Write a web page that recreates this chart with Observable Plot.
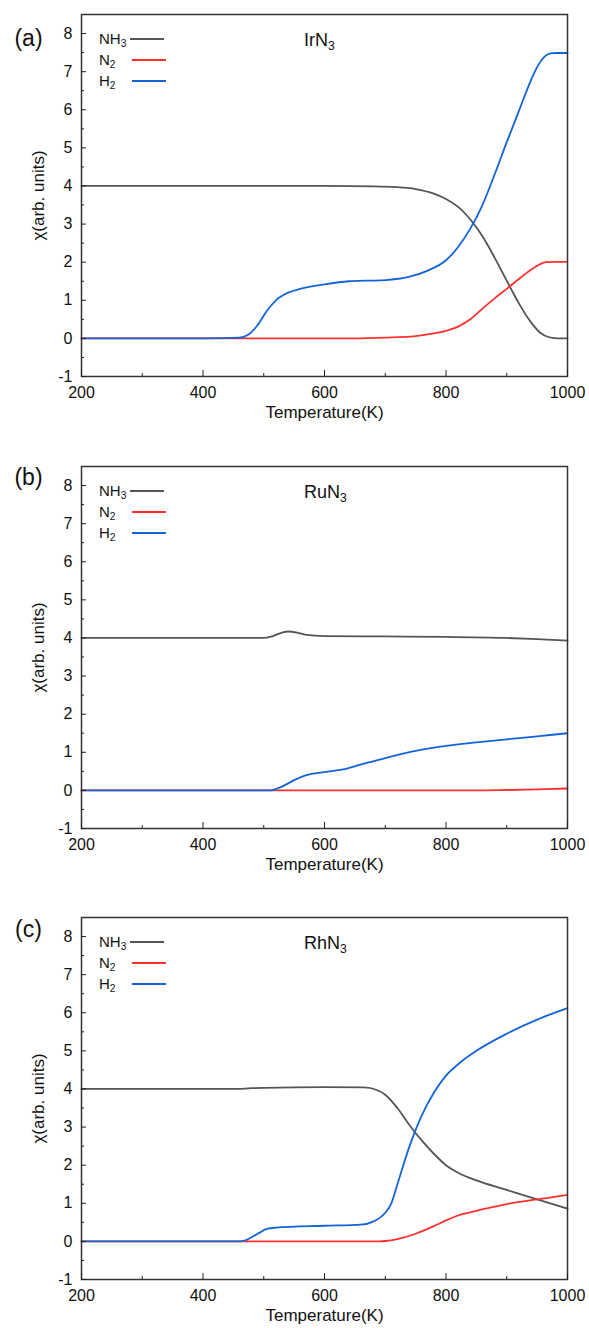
<!DOCTYPE html>
<html>
<head>
<meta charset="utf-8">
<script src="https://cdn.jsdelivr.net/npm/d3@7"></script>
<script src="https://cdn.jsdelivr.net/npm/@observablehq/plot@0.6"></script>
<style>
  body { margin: 0; background: #fff; font-family: Arial, "Liberation Sans", sans-serif; color: #111; }
  #fig { position: relative; width: 589px; }
  .panel { position: relative; width: 589px; }
  .panel svg { display: block; }
  .panel svg g[aria-label="x-axis tick label"], .panel svg g[aria-label="y-axis tick label"] { font-size: 16px; }
  .ov { position: absolute; transform: translateY(-50%); white-space: nowrap; line-height: 1; }
  .ov sub { font-size: 0.68em; vertical-align: -0.3em; line-height: 0; }
  .sw { position: absolute; height: 1.8px; width: 34px; }
</style>
</head>
<body>
<div id="fig"></div>
<script>
// ---- labels ----
const panelLabels = ["(a)", "(b)", "(c)"];
const compoundBase = ["IrN", "RuN", "RhN"];
const seriesNames = ["NH3", "N2", "H2"];
const xTitle = "Temperature(K)";
const yTitle = "χ(arb. units)";
const xMajorTicks = [200, 400, 600, 800, 1000];
const xMinorTicks = [300, 500, 700, 900];
const yMajorTicks = [-1, 0, 1, 2, 3, 4, 5, 6, 7, 8];
const yMinorTicks = [-0.5, 0.5, 1.5, 2.5, 3.5, 4.5, 5.5, 6.5, 7.5];
const seriesColors = ["#555555", "#ff3030", "#1464d8"];

// ---- (a) IrN3 ----
const irNH3_T = [200, 400, 600, 680, 720, 750, 780, 800, 820, 845, 860, 880, 906, 920, 940, 955, 970, 985, 1000];
const irNH3   = [4.0, 4.0, 4.0, 3.99, 3.97, 3.92, 3.8, 3.66, 3.45, 3.02, 2.68, 2.12, 1.33, 0.92, 0.42, 0.15, 0.03, 0.0, 0.0];
const irN2_T  = [200, 400, 600, 650, 700, 750, 780, 800, 820, 840, 860, 880, 900, 920, 940, 955, 965, 980, 1000];
const irN2    = [0, 0, 0, 0.0, 0.02, 0.06, 0.13, 0.2, 0.31, 0.5, 0.78, 1.05, 1.3, 1.56, 1.8, 1.95, 2.0, 2.01, 2.01];
const irH2_T  = [200, 400, 460, 475, 490, 505, 520, 540, 560, 600, 640, 700, 740, 770, 800, 820, 840, 860, 880, 900, 920, 940, 950, 958, 965, 972, 980, 1000];
const irH2    = [0, 0, 0.02, 0.1, 0.35, 0.72, 1.0, 1.2, 1.3, 1.42, 1.5, 1.53, 1.62, 1.78, 2.05, 2.4, 2.88, 3.5, 4.3, 5.15, 5.97, 6.78, 7.12, 7.32, 7.43, 7.48, 7.49, 7.49];

// ---- (b) RuN3 ----
const ruNH3_T = [200, 400, 500, 515, 530, 540, 555, 570, 600, 700, 800, 900, 950, 1000];
const ruNH3   = [4.0, 4.0, 4.0, 4.05, 4.14, 4.17, 4.14, 4.08, 4.05, 4.04, 4.03, 4.0, 3.97, 3.93];
const ruN2_T  = [200, 400, 600, 800, 850, 900, 950, 1000];
const ruN2    = [0, 0, 0, 0, 0.0, 0.01, 0.025, 0.05];
const ruH2_T  = [200, 400, 510, 530, 550, 570, 600, 630, 660, 700, 750, 800, 850, 900, 950, 1000];
const ruH2    = [0, 0, 0, 0.1, 0.27, 0.4, 0.48, 0.55, 0.68, 0.85, 1.04, 1.17, 1.26, 1.34, 1.42, 1.5];

// ---- (c) RhN3 ----
const rhNH3_T = [200, 400, 450, 480, 500, 600, 665, 685, 700, 720, 740, 760, 780, 800, 820, 850, 900, 950, 1000];
const rhNH3   = [4.0, 4.0, 4.0, 4.02, 4.03, 4.05, 4.04, 3.98, 3.85, 3.5, 3.05, 2.65, 2.3, 2.0, 1.8, 1.6, 1.35, 1.1, 0.86];
const rhN2_T  = [200, 400, 600, 690, 700, 720, 750, 780, 800, 820, 850, 880, 900, 950, 1000];
const rhN2    = [0, 0, 0, 0.0, 0.01, 0.06, 0.2, 0.4, 0.55, 0.68, 0.8, 0.91, 0.98, 1.1, 1.22];
const rhH2_T  = [200, 400, 460, 470, 490, 505, 520, 600, 660, 680, 700, 710, 720, 740, 760, 780, 800, 820, 850, 900, 950, 1000];
const rhH2    = [0, 0, 0, 0.03, 0.2, 0.33, 0.36, 0.41, 0.44, 0.52, 0.75, 1.0, 1.5, 2.5, 3.3, 3.9, 4.35, 4.65, 5.0, 5.45, 5.82, 6.12];

function rowsOf(list) {
  const rows = [];
  list.forEach(([name, T, V]) => T.forEach((t, i) => rows.push({series: name, T: t, v: V[i]})));
  return rows;
}

const panelData = [
  rowsOf([["NH3", irNH3_T, irNH3], ["N2", irN2_T, irN2], ["H2", irH2_T, irH2]]),
  rowsOf([["NH3", ruNH3_T, ruNH3], ["N2", ruN2_T, ruN2], ["H2", ruH2_T, ruH2]]),
  rowsOf([["NH3", rhNH3_T, rhNH3], ["N2", rhN2_T, rhN2], ["H2", rhH2_T, rhH2]])
];

const layout = [
  {h: 451, mt: 14, labelDy: 15},
  {h: 451, mt: 15, labelDy: 2},
  {h: 426, mt: 15, labelDy: 3}
];
const frameH = 362;
const font = "Arial, 'Liberation Sans', sans-serif";

const fig = document.getElementById("fig");

panelData.forEach((rows, i) => {
  const L = layout[i];
  const div = document.createElement("div");
  div.className = "panel";
  const chart = Plot.plot({
    width: 589,
    height: L.h,
    marginLeft: 81,
    marginRight: 22,
    marginTop: L.mt,
    marginBottom: L.h - L.mt - frameH,
    style: {fontFamily: font, fontSize: "16px", color: "#111", background: "#fff", overflow: "visible"},
    x: {domain: [200, 1000], label: null},
    y: {domain: [-1, 8.5], label: null},
    color: {domain: seriesNames, range: seriesColors},
    marks: [
      Plot.line(rows, {x: "T", y: "v", z: "series", stroke: "series", curve: "monotone-x", strokeWidth: 1.8}),
      Plot.frame({stroke: "#333", strokeWidth: 1.5}),
      Plot.axisX(xMajorTicks, {tickSize: -6, tickPadding: 16, tickFormat: d => String(d), fontSize: 16, stroke: "#222", fill: "#111", label: null}),
      Plot.axisX(xMinorTicks, {tickSize: -3, tickFormat: () => "", stroke: "#222", label: null}),
      Plot.axisY(yMajorTicks, {tickSize: -5, tickPadding: 14, tickFormat: d => String(d), fontSize: 16, stroke: "#222", fill: "#111", label: null}),
      Plot.axisY(yMinorTicks, {tickSize: -3, tickFormat: () => "", stroke: "#222", label: null}),
      Plot.text([xTitle], {frameAnchor: "bottom", dy: 41, fontSize: 17, fill: "#111", textAnchor: "middle"}),
      Plot.text([yTitle], {frameAnchor: "left", dx: -43, rotate: -90, fontSize: 17, fill: "#111", textAnchor: "middle"}),
      Plot.text([panelLabels[i]], {frameAnchor: "top-left", dx: -53, dy: L.labelDy, fontSize: 23, fill: "#111", textAnchor: "middle"})
    ]
  });
  div.appendChild(chart);

  // title (compound) with subscript
  const title = document.createElement("div");
  title.className = "ov";
  title.style.left = "304px";
  title.style.top = (L.mt + 26) + "px";
  title.style.fontSize = "18px";
  title.innerHTML = compoundBase[i] + "<sub>3</sub>";
  div.appendChild(title);

  // legend
  const legLabels = ["NH<sub>3</sub>", "N<sub>2</sub>", "H<sub>2</sub>"];
  const legSwatchX = [130, 132, 132];
  legLabels.forEach((lab, k) => {
    const cy = L.mt + 25 + k * 21;
    const t = document.createElement("div");
    t.className = "ov";
    t.style.left = "99px";
    t.style.top = (cy - 1) + "px";
    t.style.fontSize = "15px";
    t.innerHTML = lab;
    div.appendChild(t);
    const sw = document.createElement("div");
    sw.className = "sw";
    sw.style.left = legSwatchX[k] + "px";
    sw.style.top = (cy - 0.9) + "px";
    sw.style.background = seriesColors[k];
    div.appendChild(sw);
  });

  fig.appendChild(div);
});
</script>
</body>
</html>
